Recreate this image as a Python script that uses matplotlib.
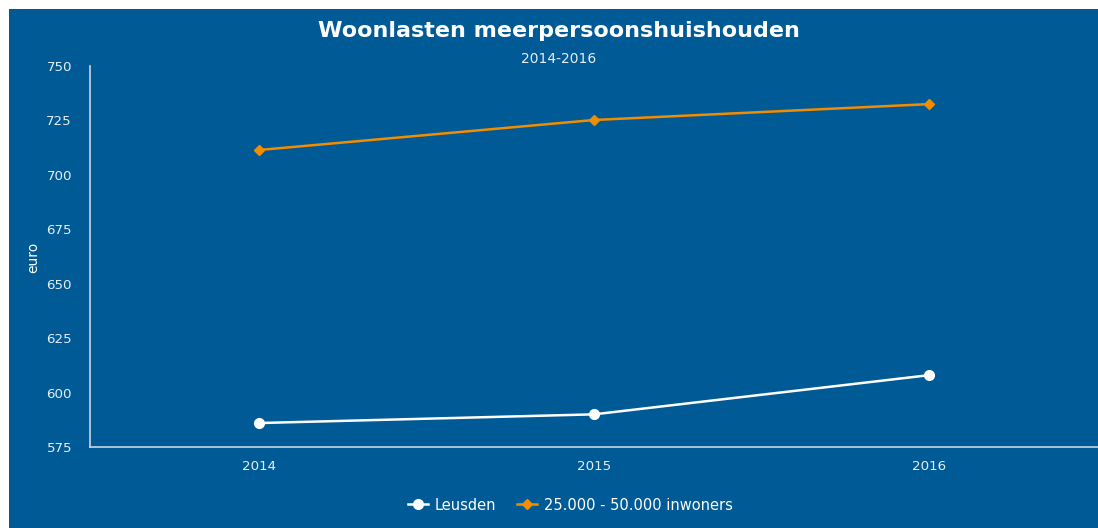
import matplotlib
matplotlib.use("Agg")
import matplotlib.pyplot as plt
from matplotlib.patches import Rectangle

# Data
years = [2014, 2015, 2016]
leusden = [586, 590, 608]
gemeenten_25_50k = [711.4, 725.2, 732.5]
yticks = [575, 600, 625, 650, 675, 700, 725, 750]

bg = '#005a96'
orange = '#f28c00'
spine = '#c9d6e3'

fig = plt.figure(figsize=(10.98, 5.28), dpi=100)
fig.patch.set_facecolor('white')
# blauwe achtergrond met witte rand links/boven
fig.patches.append(Rectangle((9 / 1098, 0), 1, 1 - 9 / 528, transform=fig.transFigure,
                             facecolor=bg, edgecolor='none', zorder=0))

ax = fig.add_axes([90 / 1098, 1 - 447 / 528, 1008 / 1098, 381 / 528])
ax.set_zorder(2)
ax.patch.set_alpha(0)

ax.plot(years, leusden, color='white', lw=1.8, marker='o', ms=7, label='Leusden',
        clip_on=False)
ax.plot(years, gemeenten_25_50k, color=orange, lw=1.8, marker='D', ms=5,
        label='25.000 - 50.000 inwoners', clip_on=False)

ax.set_xlim(2013.496, 2016.504)
ax.set_ylim(575, 750)
ax.set_xticks(years)
ax.set_xticklabels([str(y) for y in years])
ax.set_yticks(yticks)

for s in ['top', 'right']:
    ax.spines[s].set_visible(False)
for s in ['left', 'bottom']:
    ax.spines[s].set_color(spine)
    ax.spines[s].set_linewidth(1.2)

ax.tick_params(axis='both', length=0, colors='white', labelsize=9.6, pad=9)
ax.tick_params(axis='y', pad=13)
for lbl in ax.get_xticklabels() + ax.get_yticklabels():
    lbl.set_color('#e6eef5')

fig.text(33 / 1098, 1 - 257 / 528, 'euro', rotation=90, color='white',
         fontsize=10, ha='center', va='center')

fig.text(559 / 1098, 1 - 31 / 528, 'Woonlasten meerpersoonshuishouden',
         color='white', fontsize=16, fontweight='bold', ha='center', va='center')
fig.text(559 / 1098, 1 - 59 / 528, '2014-2016', color='#e6eef5', fontsize=10,
         ha='center', va='center')

leg = fig.legend(loc='center', bbox_to_anchor=(570.5 / 1098, 1 - 505 / 528), ncol=2,
                 frameon=False, fontsize=10.5, handlelength=1.37, columnspacing=1.4,
                 handletextpad=0.48, borderpad=0, borderaxespad=0)
for t in leg.get_texts():
    t.set_color('white')

fig.savefig('out.png', dpi=100, facecolor=fig.get_facecolor())
